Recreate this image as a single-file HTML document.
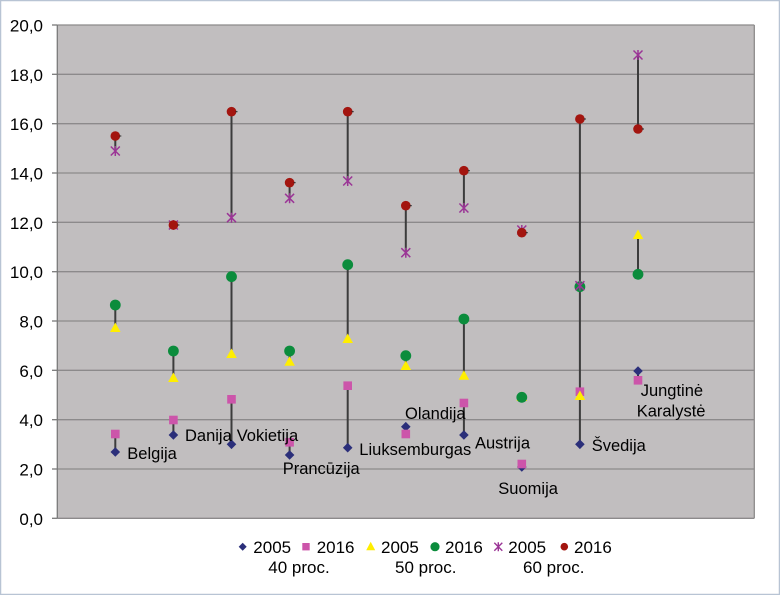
<!DOCTYPE html>
<html><head><meta charset="utf-8"><style>
html,body{margin:0;padding:0;background:#fff;}
svg{display:block;}
text{font-family:"Liberation Sans",Arial,sans-serif;fill:#000;}
</style></head><body>
<svg width="780" height="595" viewBox="0 0 780 595" xmlns="http://www.w3.org/2000/svg">
<defs>
<path id="dia" d="M0,-4.8 L4.8,0 L0,4.8 L-4.8,0 Z" fill="#2b2f7a"/>
<rect id="sq" x="-4.3" y="-4.3" width="8.6" height="8.6" fill="#cc55aa"/>
<path id="tri" d="M0,-5.5 L5.3,4 L-5.3,4 Z" fill="#ffee00"/>
<circle id="gc" r="5.4" fill="#0b8c3c"/>
<g id="st" stroke="#9b3596" stroke-width="1.5" fill="none"><path d="M-4.5,-4.5 L4.5,4.5 M-4.5,4.5 L4.5,-4.5 M0,-5 L0,5"/></g>
<g id="rc"><circle r="4.8" fill="#a3150f"/><path d="M4,0 L6,0" stroke="#222" stroke-width="1"/></g>
</defs>
<rect x="0.5" y="0.5" width="779" height="594" fill="#fff" stroke="#b8c4d4" stroke-width="1.5"/>
<rect x="57.3" y="25" width="697" height="493.3" fill="#c1bebf"/>
<g stroke="#8c8a8b" stroke-width="1.3">
<line x1="57.3" y1="25" x2="754.3" y2="25"/>
<line x1="57.3" y1="74.3" x2="754.3" y2="74.3"/>
<line x1="57.3" y1="123.7" x2="754.3" y2="123.7"/>
<line x1="57.3" y1="173" x2="754.3" y2="173"/>
<line x1="57.3" y1="222.3" x2="754.3" y2="222.3"/>
<line x1="57.3" y1="271.7" x2="754.3" y2="271.7"/>
<line x1="57.3" y1="321" x2="754.3" y2="321"/>
<line x1="57.3" y1="370.3" x2="754.3" y2="370.3"/>
<line x1="57.3" y1="419.7" x2="754.3" y2="419.7"/>
<line x1="57.3" y1="469" x2="754.3" y2="469"/>
<line x1="57.3" y1="518.3" x2="754.3" y2="518.3"/>
<line x1="754.3" y1="25" x2="754.3" y2="518.3"/>
</g>
<g stroke="#7a7a7a" stroke-width="1.3">
<line x1="57.3" y1="25" x2="57.3" y2="518.3"/>
<line x1="52" y1="25" x2="57.3" y2="25"/>
<line x1="52" y1="74.3" x2="57.3" y2="74.3"/>
<line x1="52" y1="123.7" x2="57.3" y2="123.7"/>
<line x1="52" y1="173" x2="57.3" y2="173"/>
<line x1="52" y1="222.3" x2="57.3" y2="222.3"/>
<line x1="52" y1="271.7" x2="57.3" y2="271.7"/>
<line x1="52" y1="321" x2="57.3" y2="321"/>
<line x1="52" y1="370.3" x2="57.3" y2="370.3"/>
<line x1="52" y1="419.7" x2="57.3" y2="419.7"/>
<line x1="52" y1="469" x2="57.3" y2="469"/>
<line x1="52" y1="518.3" x2="57.3" y2="518.3"/>
</g>
<g font-size="17" text-anchor="end">
<text x="43" y="31.5">20,0</text>
<text x="43" y="80.8">18,0</text>
<text x="43" y="130.2">16,0</text>
<text x="43" y="179.5">14,0</text>
<text x="43" y="228.8">12,0</text>
<text x="43" y="278.2">10,0</text>
<text x="43" y="327.5">8,0</text>
<text x="43" y="376.8">6,0</text>
<text x="43" y="426.2">4,0</text>
<text x="43" y="475.5">2,0</text>
<text x="43" y="524.8">0,0</text>
</g>
<g stroke="#3c3c3c" stroke-width="2">
<line x1="115.3" y1="136" x2="115.3" y2="151"/>
<line x1="115.3" y1="305" x2="115.3" y2="328"/>
<line x1="115.3" y1="434" x2="115.3" y2="452"/>
<line x1="173.4" y1="351" x2="173.4" y2="378"/>
<line x1="173.4" y1="420" x2="173.4" y2="435"/>
<line x1="231.5" y1="111.7" x2="231.5" y2="217.7"/>
<line x1="231.5" y1="276.7" x2="231.5" y2="354"/>
<line x1="231.5" y1="399.3" x2="231.5" y2="444.3"/>
<line x1="289.6" y1="182.7" x2="289.6" y2="198.3"/>
<line x1="289.6" y1="351" x2="289.6" y2="361.7"/>
<line x1="289.6" y1="442.3" x2="289.6" y2="455"/>
<line x1="347.7" y1="111.7" x2="347.7" y2="181"/>
<line x1="347.7" y1="264.7" x2="347.7" y2="339"/>
<line x1="347.7" y1="385.7" x2="347.7" y2="447.7"/>
<line x1="405.8" y1="205.7" x2="405.8" y2="252.7"/>
<line x1="405.8" y1="355.7" x2="405.8" y2="366"/>
<line x1="405.8" y1="426.7" x2="405.8" y2="434"/>
<line x1="463.9" y1="170.7" x2="463.9" y2="208"/>
<line x1="463.9" y1="319" x2="463.9" y2="375.7"/>
<line x1="463.9" y1="403" x2="463.9" y2="435"/>
<line x1="579.9" y1="119" x2="579.9" y2="444.3"/>
<line x1="638" y1="55" x2="638" y2="129"/>
<line x1="638" y1="235" x2="638" y2="274.3"/>
<line x1="638" y1="371" x2="638" y2="380.3"/>
</g>
<use href="#dia" x="115.3" y="452"/>
<use href="#dia" x="173.4" y="435"/>
<use href="#dia" x="231.5" y="444.3"/>
<use href="#dia" x="289.6" y="455"/>
<use href="#dia" x="347.7" y="447.7"/>
<use href="#dia" x="405.8" y="426.7"/>
<use href="#dia" x="463.9" y="435"/>
<use href="#dia" x="521.8" y="467"/>
<use href="#dia" x="579.9" y="444.3"/>
<use href="#dia" x="638" y="371"/>
<use href="#sq" x="115.3" y="434"/>
<use href="#sq" x="173.4" y="420"/>
<use href="#sq" x="231.5" y="399.3"/>
<use href="#sq" x="289.6" y="442.3"/>
<use href="#sq" x="347.7" y="385.7"/>
<use href="#sq" x="405.8" y="434"/>
<use href="#sq" x="463.9" y="403"/>
<use href="#sq" x="521.8" y="464"/>
<use href="#sq" x="579.9" y="391.7"/>
<use href="#sq" x="638" y="380.3"/>
<use href="#tri" x="115.3" y="328"/>
<use href="#tri" x="173.4" y="378"/>
<use href="#tri" x="231.5" y="354"/>
<use href="#tri" x="289.6" y="361.7"/>
<use href="#tri" x="347.7" y="339"/>
<use href="#tri" x="405.8" y="366"/>
<use href="#tri" x="463.9" y="375.7"/>
<use href="#tri" x="521.8" y="397"/>
<use href="#tri" x="579.9" y="396"/>
<use href="#tri" x="638" y="235"/>
<use href="#gc" x="115.3" y="305"/>
<use href="#gc" x="173.4" y="351"/>
<use href="#gc" x="231.5" y="276.7"/>
<use href="#gc" x="289.6" y="351"/>
<use href="#gc" x="347.7" y="264.7"/>
<use href="#gc" x="405.8" y="355.7"/>
<use href="#gc" x="463.9" y="319"/>
<use href="#gc" x="521.8" y="397.3"/>
<use href="#gc" x="579.9" y="286.7"/>
<use href="#gc" x="638" y="274.3"/>
<use href="#st" x="115.3" y="151"/>
<use href="#st" x="173.4" y="225"/>
<use href="#st" x="231.5" y="217.7"/>
<use href="#st" x="289.6" y="198.3"/>
<use href="#st" x="347.7" y="181"/>
<use href="#st" x="405.8" y="252.7"/>
<use href="#st" x="463.9" y="208"/>
<use href="#st" x="521.8" y="230"/>
<use href="#st" x="579.9" y="285.7"/>
<use href="#st" x="638" y="55"/>
<use href="#rc" x="115.3" y="136"/>
<use href="#rc" x="173.4" y="225"/>
<use href="#rc" x="231.5" y="111.7"/>
<use href="#rc" x="289.6" y="182.7"/>
<use href="#rc" x="347.7" y="111.7"/>
<use href="#rc" x="405.8" y="205.7"/>
<use href="#rc" x="463.9" y="170.7"/>
<use href="#rc" x="521.8" y="232.7"/>
<use href="#rc" x="579.9" y="119"/>
<use href="#rc" x="638" y="129"/>
<g font-size="16.5">
<text x="127.3" y="459">Belgija</text>
<text x="185" y="441">Danija</text>
<text x="236.7" y="441">Vokietija</text>
<text x="282.7" y="474">Prancūzija</text>
<text x="359.3" y="455">Liuksemburgas</text>
<text x="405" y="419">Olandija</text>
<text x="475" y="448.5">Austrija</text>
<text x="498.3" y="494">Suomija</text>
<text x="591.7" y="451">Švedija</text>
<text x="640.7" y="396">Jungtinė</text>
<text x="636.7" y="416.5">Karalystė</text>
</g>
<path d="M242.7,542.7 L246.7,546.7 L242.7,550.7 L238.7,546.7 Z" fill="#2b2f7a"/>
<rect x="302.3" y="543" width="7.4" height="7.4" fill="#cc55aa"/>
<path d="M370.7,541.7 L375.2,550.2 L366.2,550.2 Z" fill="#ffee00"/>
<circle cx="435" cy="546.7" r="4.6" fill="#0b8c3c"/>
<g stroke="#9b3596" stroke-width="1.4"><path d="M494.3,542.7 L502.3,550.7 M494.3,550.7 L502.3,542.7 M498.3,542.2 L498.3,551.2"/></g>
<circle cx="564.3" cy="546.7" r="3.8" fill="#a3150f"/>
<g font-size="17">
<text x="253.3" y="552.8">2005</text>
<text x="316.7" y="552.8">2016</text>
<text x="381" y="552.8">2005</text>
<text x="445" y="552.8">2016</text>
<text x="508.3" y="552.8">2005</text>
<text x="574" y="552.8">2016</text>
<text x="268.3" y="572.8">40 proc.</text>
<text x="395" y="572.8">50 proc.</text>
<text x="523" y="572.8">60 proc.</text>
</g>
</svg>
</body></html>
